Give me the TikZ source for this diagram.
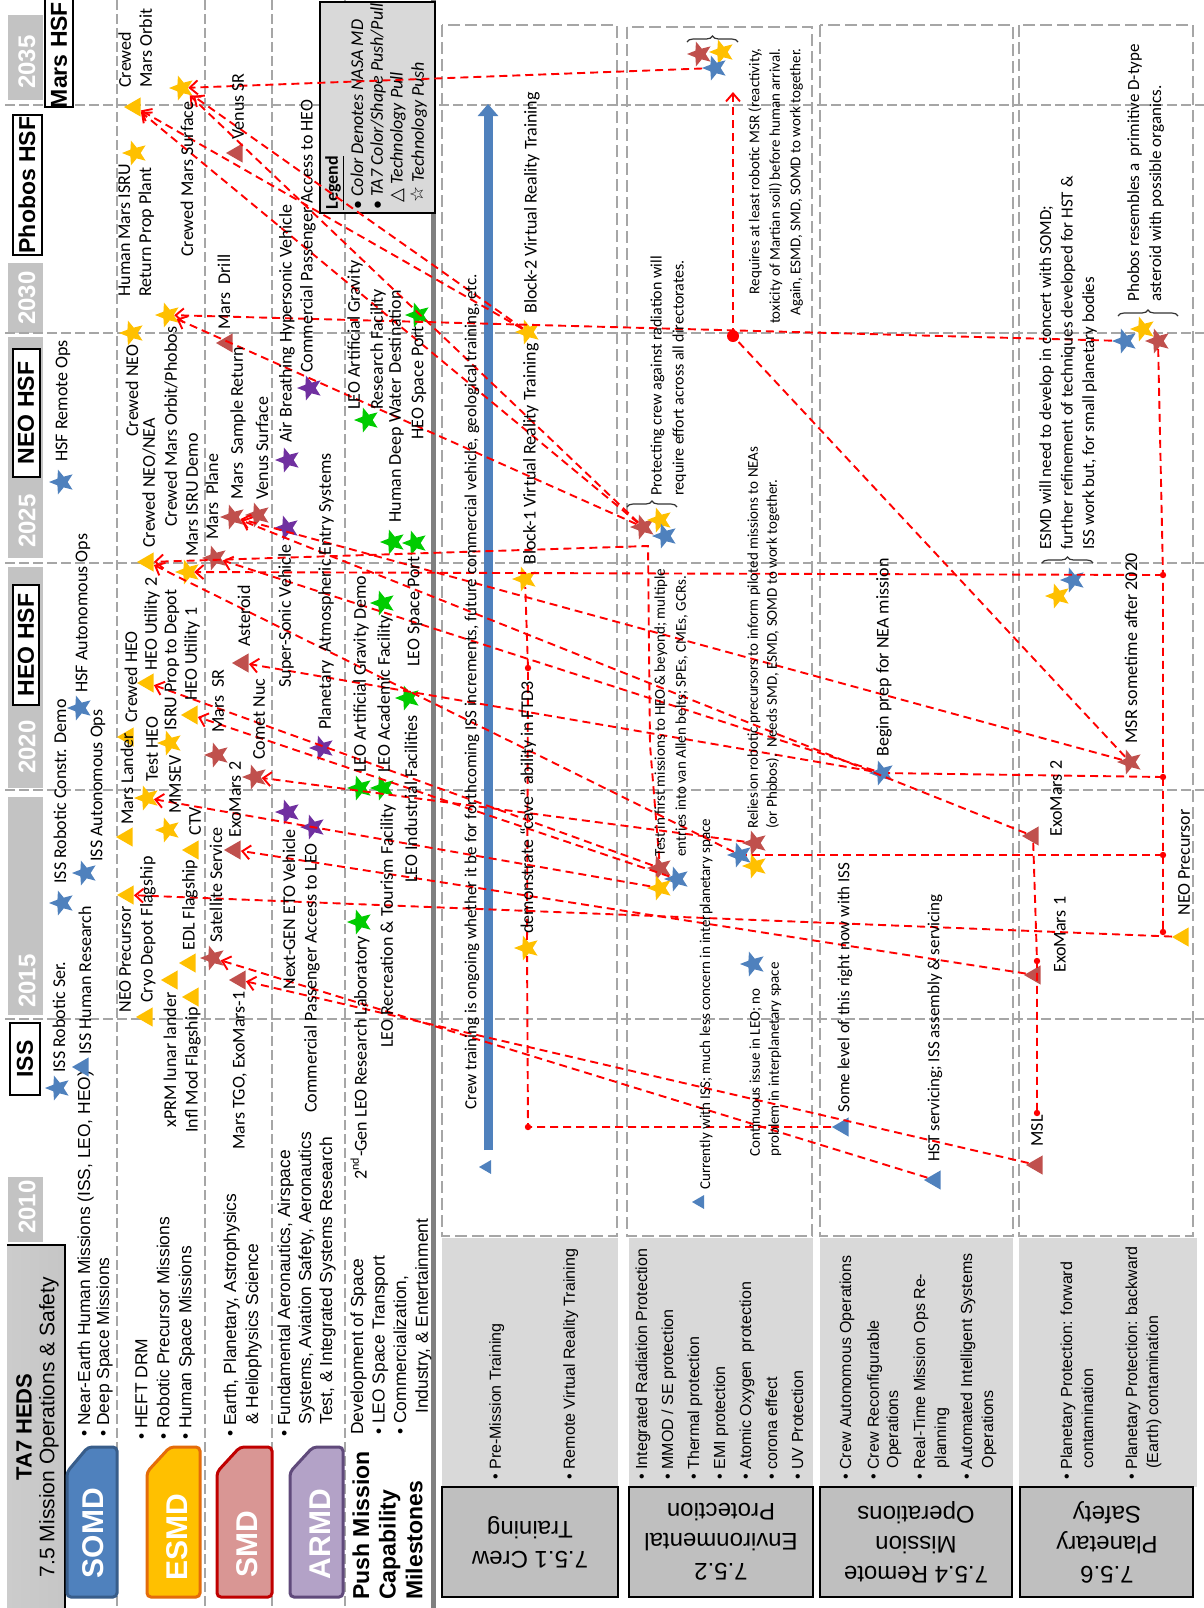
\documentclass[tikz,border=0pt]{standalone}
\usepackage{fontspec}
\setmainfont{Carlito}
\newfontfamily\arialf{Liberation Sans}
\newfontfamily\symf{DejaVu Sans}
\usetikzlibrary{shapes.geometric,arrows.meta,decorations.pathreplacing}

\definecolor{somdblue}{HTML}{4F81BD}
\definecolor{somdedge}{HTML}{385D8A}
\definecolor{esmdgold}{HTML}{FFC000}
\definecolor{esmdedge}{HTML}{E46C0A}
\definecolor{smdred}{HTML}{C0504D}
\definecolor{smdfill}{HTML}{D99694}
\definecolor{smdedge}{HTML}{C00000}
\definecolor{armdpurple}{HTML}{7030A0}
\definecolor{armdfill}{HTML}{B3A2C7}
\definecolor{armdedge}{HTML}{604A7B}
\definecolor{pushgreen}{HTML}{00CC00}
\definecolor{gridgray}{HTML}{A6A6A6}
\definecolor{cellgray}{HTML}{C3C3C3}
\definecolor{boxgray}{HTML}{D9D9D9}
\definecolor{darkbox}{HTML}{BFBFBF}
\definecolor{pullred}{HTML}{FF0000}

\tikzset{
  lbl/.style={rotate=90, anchor=west, inner sep=0pt, font=\fontsize{9}{10.5}\selectfont},
  lbltwo/.style={rotate=90, anchor=north west, inner sep=0pt, align=left, font=\fontsize{9}{10.5}\selectfont},
  notesm/.style={rotate=90, anchor=north west, inner sep=0pt, align=left, font=\fontsize{7.5}{10.5}\selectfont},
  notesl/.style={rotate=90, anchor=west, inner sep=0pt, font=\fontsize{7.5}{9}\selectfont},
  notemd/.style={rotate=90, anchor=west, inner sep=0pt, font=\fontsize{8.5}{10}\selectfont},
  bullets/.style={rotate=90, anchor=north west, inner sep=0pt, align=left, font=\arialf\fontsize{8.7}{11}\selectfont},
  capbul/.style={rotate=90, anchor=north west, inner sep=0pt, align=left, font=\arialf\fontsize{8}{9.5}\selectfont},
  tabtext/.style={rotate=90, text=white, font=\arialf\bfseries\fontsize{15}{15}\selectfont},
  yeartext/.style={rotate=90, text=white, font=\arialf\bfseries\fontsize{12}{12}\selectfont},
  milebox/.style={rotate=90, font=\arialf\bfseries\fontsize{11.5}{11.5}\selectfont},
  rowhead/.style={rotate=180, align=center, font=\arialf\fontsize{12}{15}\selectfont},
  mstar/.style={star, star points=5, star point ratio=2.3, minimum size=13pt, inner sep=0pt, rotate=90},
  mtri/.style={regular polygon, regular polygon sides=3, minimum size=11pt, inner sep=0pt, rotate=90},
  yearline/.style={gridgray, line width=0.6pt, dash pattern=on 5pt off 2pt},
  rowbox/.style={gridgray, line width=1pt, dash pattern=on 6pt off 2.5pt},
  linkline/.style={pullred, line width=0.95pt, dash pattern=on 4pt off 2.5pt},
  pullline/.style={linkline, -{Straight Barb[length=4pt, width=7pt]}},
  clusterbrace/.style={decorate, decoration={brace, amplitude=3pt}, line width=0.6pt, black!80}
}

\begin{document}
\begin{tikzpicture}[x=0.5pt, y=-0.5pt]
\useasboundingbox (0,0) rectangle (1204,1608);
\fill[white] (0,0) rectangle (1204,1608);

% year cells
\fill[cellgray] (8,15) rectangle (43,100);
\fill[cellgray] (8,263) rectangle (43,333);
\fill[cellgray] (8,337) rectangle (43,558);
\fill[cellgray] (8,567) rectangle (43,788);
\fill[cellgray] (8,797) rectangle (43,1015);
\fill[cellgray] (8,1177) rectangle (43,1242);
\node[yeartext] (y2035) at (27,62) {2035};
\node[yeartext] (y2030) at (27,298) {2030};
\node[yeartext] (y2025) at (27,521) {2025};
\node[yeartext] (y2020) at (27,747) {2020};
\node[yeartext] (y2015) at (27,981) {2015};
\node[yeartext] (y2010) at (27,1207) {2010};

% grid
\foreach \yy in {105,333,563,790,1019}
  \draw[yearline] (5,\yy) -- (1204,\yy);
\foreach \xx in {117,205,272,345}
  \draw[yearline] (\xx,0) -- (\xx,1608);
\draw[line width=2.5pt, gray] (433,0) -- (433,1608);

% milestone boxes
\draw[line width=1.2pt, fill=white] (45,-5) rectangle (73,107);
\node[milebox] (b_mars) at (59,55) {Mars HSF};
\draw[line width=1.2pt, fill=white] (13,115) rectangle (42,255);
\node[milebox] (b_phobos) at (27,185) {Phobos HSF};
\draw[line width=1.2pt, fill=white] (13,349) rectangle (40,477);
\node[milebox] (b_neo) at (26,413) {NEO HSF};
\draw[line width=1.2pt, fill=white] (13,585) rectangle (39,705);
\node[milebox] (b_heo) at (26,645) {HEO HSF};
\draw[line width=1.2pt, fill=white] (10,1023) rectangle (40,1095);
\node[milebox] (b_iss) at (25,1059) {ISS};

% header
\shade[left color=gray!40, middle color=gray!6, right color=gray!45] (7,1245) rectangle (65,1608);
\draw[line width=1pt] (7,1245) -- (65,1245) -- (65,1608);
\node[rotate=90, font=\arialf\bfseries\fontsize{11}{11}\selectfont] (hd_ta7) at (24,1427) {TA7 HEDS};
\node[rotate=90, font=\arialf\fontsize{10.5}{10.5}\selectfont] (hd_sub) at (49,1427) {7.5 Mission Operations \& Safety};

% directorate tabs
\filldraw[fill=somdblue, draw=somdedge, line width=1.5pt, rounded corners=2pt]
  (67,1472) -- (88,1447) -- (117,1447) -- (117,1597) -- (67,1597) -- cycle;
\node[tabtext] (tab_somd) at (93,1533) {SOMD};
\filldraw[fill=esmdgold, draw=esmdedge, line width=1.5pt, rounded corners=2pt]
  (147,1472) -- (170,1447) -- (200,1447) -- (200,1597) -- (147,1597) -- cycle;
\node[tabtext] (tab_esmd) at (177,1537) {ESMD};
\filldraw[fill=smdfill, draw=smdedge, line width=1.5pt, rounded corners=2pt]
  (217,1472) -- (240,1447) -- (272,1447) -- (272,1597) -- (217,1597) -- cycle;
\node[tabtext] (tab_smd) at (247,1544) {SMD};
\filldraw[fill=armdfill, draw=armdedge, line width=1.5pt, rounded corners=2pt]
  (290,1472) -- (313,1447) -- (343,1447) -- (343,1597) -- (290,1597) -- cycle;
\node[tabtext] (tab_armd) at (320,1534) {ARMD};
\node[rotate=90, anchor=north west, inner sep=0pt, align=left, font=\arialf\bfseries\fontsize{11.5}{13.3}\selectfont] (tab_push) at (352,1600) {Push Mission\\Capability\\Milestones};

\node[bullets, font=\arialf\fontsize{8.7}{9.5}\selectfont] (m_somd) at (77,1437) {• Near-Earth Human Missions (ISS, LEO, HEO)\\• Deep Space Missions};
\node[bullets] (m_esmd) at (135,1440) {• HEFT DRM\\• Robotic Precursor Missions\\• Human Space Missions};
\node[bullets] (m_smd) at (223,1437) {• Earth, Planetary, Astrophysics\\\hspace*{0.7em}\& Heliophysics Science};
\node[bullets, font=\arialf\fontsize{8.7}{10.5}\selectfont] (m_armd) at (277,1437) {• Fundamental Aeronautics, Airspace\\\hspace*{0.7em}Systems, Aviation Safety, Aeronautics\\\hspace*{0.7em}Test, \& Integrated Systems Research};
\node[bullets, font=\arialf\fontsize{8.7}{10.8}\selectfont] (m_push) at (350,1435) {Development of Space\\• LEO Space Transport\\• Commercialization,\\\hspace*{1.2em}Industry, \& Entertainment};

% lower rows
\fill[boxgray] (442,1238) rectangle (618,1487);
\fill[boxgray] (629,1238) rectangle (813,1487);
\fill[boxgray] (820,1238) rectangle (1013,1487);
\fill[boxgray] (1019,1238) rectangle (1197,1487);
\filldraw[fill=darkbox, draw=black, line width=1pt] (442,1487) rectangle (618,1597);
\filldraw[fill=darkbox, draw=black, line width=1pt] (629,1487) rectangle (813,1597);
\filldraw[fill=darkbox, draw=black, line width=1pt] (820,1487) rectangle (1012,1597);
\filldraw[fill=darkbox, draw=black, line width=1pt] (1020,1487) rectangle (1193,1597);
\draw[rowbox] (442,25) rectangle (617,1236);
\draw[rowbox] (627,27) rectangle (812,1236);
\draw[rowbox] (820,25) rectangle (1013,1236);
\draw[rowbox] (1019,25) rectangle (1193,1236);
\node[rowhead] (h_crew) at (530,1542) {7.5.1 Crew\\Training};
\node[rowhead] (h_env) at (721,1542) {7.5.2\\Environmental\\Protection};
\node[rowhead] (h_remote) at (916,1542) {7.5.4 Remote\\Mission\\Operations};
\node[rowhead] (h_safety) at (1107,1542) {7.5.6\\Planetary\\Safety};
\node[capbul] (c_pre) at (489,1480) {• Pre-Mission Training};
\node[capbul] (c_rvr) at (563,1480) {• Remote Virtual Reality Training};
\node[capbul, font=\arialf\fontsize{8}{13}\selectfont] (c_env) at (635,1480) {• Integrated Radiation Protection\\• MMOD / SE protection\\• Thermal protection\\• EMI protection\\• Atomic Oxygen\ \ protection\\• corona effect\\• UV Protection};
\node[capbul] (c_cao) at (839,1480) {• Crew Autonomous Operations};
\node[capbul] (c_cro) at (867,1480) {• Crew Reconfigurable\\\hspace*{0.7em}Operations};
\node[capbul, font=\arialf\fontsize{8}{10.5}\selectfont] (c_rtm) at (913,1480) {• Real-Time Mission Ops Re-\\\hspace*{0.7em}planning};
\node[capbul, font=\arialf\fontsize{8}{10.5}\selectfont] (c_ais) at (960,1480) {• Automated Intelligent Systems\\\hspace*{0.7em}Operations};
\node[capbul, font=\arialf\fontsize{8}{10.5}\selectfont] (c_ppf) at (1060,1480) {• Planetary Protection: forward\\\hspace*{0.7em}contamination};
\node[capbul, font=\arialf\fontsize{8}{10.5}\selectfont] (c_ppb) at (1125,1480) {• Planetary Protection: backward\\\hspace*{0.7em}(Earth) contamination};

% legend
\filldraw[fill=boxgray, draw=black, line width=1pt] (320,2) rectangle (435,213);
\node[lbl, font=\bfseries\fontsize{9}{10}\selectfont] (lg_title) at (335,210) {\underline{Legend}};
\node[lbl] (lg_color) at (357,210) {• \textit{Color Denotes NASA MD}};
\node[lbl] (lg_shape) at (378,210) {• \textit{TA7 Color/Shape Push/Pull}};
\node[lbl] (lg_pull) at (398,203) {{\symf △} \textit{Technology Pull}};
\node[lbl] (lg_push) at (419,203) {{\symf ☆} \textit{Technology Push}};

% markers, top
\node[mstar, fill=somdblue] (s_issrs) at (58,1088) {};
\node[mtri, fill=somdblue] (t_isshr) at (83,1067) {};
\node[mstar, fill=somdblue] (s_issrcd) at (62,903) {};
\node[mstar, fill=somdblue] (s_issao) at (85,873) {};
\node[mstar, fill=somdblue] (s_hsfao) at (80,708) {};
\node[mstar, fill=somdblue] (s_hsfro) at (62,482) {};
\node[mtri, fill=esmdgold] (t_neop) at (128,895) {};
\node[mtri, fill=esmdgold] (t_cryo) at (147,1017) {};
\node[mtri, fill=esmdgold] (t_xprm) at (172,980) {};
\node[mtri, fill=esmdgold] (t_infl) at (193,997) {};
\node[mtri, fill=esmdgold] (t_edl) at (190,963) {};
\node[mtri, fill=esmdgold] (t_ctv) at (193,850) {};
\node[mstar, fill=esmdgold] (s_mmsev) at (168,830) {};
\node[mtri, fill=esmdgold] (t_marsl) at (127,837) {};
\node[mstar, fill=esmdgold] (s_testheo) at (147,798) {};
\node[mstar, fill=esmdgold] (s_isrupd) at (170,743) {};
\node[mtri, fill=esmdgold] (t_crewheo) at (128,737) {};
\node[mtri, fill=esmdgold] (t_heou2) at (148,683) {};
\node[mtri, fill=esmdgold] (t_heou1) at (192,715) {};
\node[mtri, fill=esmdgold] (t_crewneonea) at (148,562) {};
\node[mstar, fill=esmdgold] (s_marsisru) at (188,572) {};
\node[mstar, fill=esmdgold] (s_crewmop) at (168,315) {};
\node[mstar, fill=esmdgold] (s_crewneo) at (132,333) {};
\node[mstar, fill=esmdgold] (s_hmisru) at (135,153) {};
\node[mtri, fill=esmdgold] (t_crewmo) at (135,107) {};
\node[mstar, fill=esmdgold] (s_crewms) at (182,88) {};
\node[mstar, fill=smdred] (s_satserv) at (213,958) {};
\node[mtri, fill=smdred] (t_marstgo) at (240,980) {};
\node[mtri, fill=smdred] (t_exom2) at (235,850) {};
\node[mstar, fill=smdred] (s_marssr) at (217,755) {};
\node[mstar, fill=smdred] (s_cometnuc) at (255,777) {};
\node[mtri, fill=smdred] (t_asteroid) at (243,663) {};
\node[mstar, fill=smdred] (s_marsplane) at (215,558) {};
\node[mstar, fill=smdred] (s_marssret) at (233,517) {};
\node[mstar, fill=smdred] (s_venussurf) at (258,515) {};
\node[mtri, fill=smdred] (t_marsdrill) at (227,343) {};
\node[mtri, fill=smdred] (t_venussr) at (237,153) {};
\node[mstar, fill=armdpurple] (s_etov) at (288,812) {};
\node[mstar, fill=armdpurple] (s_cpleo) at (313,827) {};
\node[mstar, fill=armdpurple] (s_planet) at (322,748) {};
\node[mstar, fill=armdpurple] (s_supers) at (287,528) {};
\node[mstar, fill=armdpurple] (s_airb) at (288,460) {};
\node[mstar, fill=armdpurple] (s_cpheo) at (310,388) {};
\node[mstar, fill=pushgreen] (s_gen2) at (360,922) {};
\node[mstar, fill=pushgreen] (s_leoagd) at (360,788) {};
\node[mstar, fill=pushgreen] (s_leorec) at (383,788) {};
\node[mstar, fill=pushgreen] (s_leoacad) at (383,603) {};
\node[mstar, fill=pushgreen] (s_leoind) at (408,698) {};
\node[mstar, fill=pushgreen] (s_hdwd) at (393,542) {};
\node[mstar, fill=pushgreen] (s_leosp) at (415,543) {};
\node[mstar, fill=pushgreen] (s_leoagrf) at (367,420) {};
\node[mstar, fill=pushgreen] (s_heosp) at (418,315) {};

% markers, bottom
\node[mstar, fill=smdred] (s_m1) at (700,54) {};
\node[mstar, fill=esmdgold] (s_m2) at (722,52) {};
\node[mstar, fill=somdblue] (s_m3) at (715,68) {};
\node[mstar, fill=smdred] (s_a1) at (643,527) {};
\node[mstar, fill=esmdgold] (s_a2) at (660,520) {};
\node[mstar, fill=somdblue] (s_a3) at (665,536) {};
\node[mstar, fill=smdred] (s_b1) at (660,868) {};
\node[mstar, fill=somdblue] (s_b2) at (677,879) {};
\node[mstar, fill=esmdgold] (s_b3) at (660,888) {};
\node[mstar, fill=somdblue] (s_c1) at (740,855) {};
\node[mstar, fill=smdred] (s_c2) at (755,843) {};
\node[mstar, fill=esmdgold] (s_c3) at (755,866) {};
\node[mstar, fill=somdblue] (s_cont) at (753,964) {};
\node[mtri, fill=somdblue, minimum size=8pt] (t_curr) at (700,1202) {};
\node[mstar, fill=esmdgold] (s_blk2) at (528,332) {};
\node[mstar, fill=esmdgold] (s_blk1) at (525,579) {};
\node[mstar, fill=esmdgold] (s_ftd) at (527,948) {};
\node[mtri, fill=somdblue, minimum size=8pt] (t_crewtr) at (487,1167) {};
\node[mstar, fill=somdblue] (s_nea) at (882,773) {};
\node[mtri, fill=somdblue] (t_some) at (843,1127) {};
\node[mtri, fill=somdblue] (t_hst) at (935,1180) {};
\node[mstar, fill=somdblue] (s_d1) at (1073,580) {};
\node[mstar, fill=esmdgold] (s_d2) at (1058,596) {};
\node[mstar, fill=somdblue] (s_p1) at (1125,341) {};
\node[mstar, fill=esmdgold] (s_p2) at (1143,329) {};
\node[mstar, fill=smdred] (s_p3) at (1158,341) {};
\node[mstar, fill=smdred] (s_msr) at (1130,762) {};
\node[mtri, fill=smdred] (t_exom2b) at (1033,836) {};
\node[mtri, fill=smdred] (t_exom1b) at (1035,975) {};
\node[mtri, fill=smdred] (t_msl) at (1037,1165) {};
\node[mtri, fill=esmdgold] (t_neopb) at (1183,937) {};

\draw[clusterbrace] (687,42) -- (738,42);
\draw[clusterbrace] (627,507) -- (677,507);
\draw[clusterbrace] (1042,563) -- (1093,563);
\draw[clusterbrace] (1118,316) -- (1178,316);

% crew training bar
\coordinate (k_barbot) at (488,1150);
\coordinate (k_bartop) at (488,104);
\draw[line width=4.5pt, somdblue, -{Triangle[length=6pt, width=10pt]}] (k_barbot) -- (k_bartop);

% pull lines
\coordinate (k_mars) at (733,92);
\coordinate (d_msr) at (733,336);
\coordinate (k_a) at (648,546);
\coordinate (k_b) at (650,745);
\coordinate (d_ftd) at (528,1127);
\coordinate (d_blk) at (528,668);
\coordinate (d_r1) at (1163,575);
\coordinate (d_r2) at (1163,777);
\coordinate (d_r3) at (1163,855);
\coordinate (d_r4) at (1163,932);
\coordinate (d_e1) at (1037,961);
\coordinate (d_e2) at (1037,1113);
\draw[pullline] (s_m3) -- (s_crewms);
\draw[pullline] (s_a1) -- (s_crewms);
\draw[pullline] (s_a1) -- (t_crewmo);
\draw[pullline] (s_a1) -- (s_crewmop);
\draw[pullline] (s_blk2) -- (s_crewms);
\draw[pullline] (s_blk2) -- (t_crewmo);
\draw[pullline] (s_b1) -- (k_b) -- (k_a) -- (t_crewneonea);
\draw[pullline] (s_p1) -- (s_crewmop);
\draw[pullline] (d_msr) -- (k_mars);
\draw[linkline] (s_msr) -- (d_msr);
\draw[pullline] (s_msr) -- (s_marssret);
\draw[pullline] (s_b1) -- (t_heou2);
\draw[pullline] (s_b2) -- (t_heou1);
\draw[pullline] (s_b3) -- (s_testheo);
\draw[pullline] (t_neopb) -- (t_neop);
\draw[pullline] (s_c1) -- (t_crewneonea);
\draw[pullline] (s_c2) -- (s_cometnuc);
\draw[pullline] (s_nea) -- (t_asteroid);
\draw[pullline] (s_nea) -- (s_marsplane);
\draw[linkline] (s_p3) -- (d_r1) -- (d_r2) -- (d_r3) -- (d_r4);
\draw[pullline] (d_r1) -- (s_marsisru);
\draw[linkline] (d_r2) -- (s_nea);
\draw[linkline] (d_r3) -- (s_c1);
\draw[linkline] (t_exom2b) -- (d_e1) -- (d_e2);
\draw[pullline] (t_exom1b) -- (t_exom2);
\draw[pullline] (t_exom2b) -- (s_marssret);
\draw[pullline] (t_hst) -- (s_satserv);
\draw[pullline] (t_msl) -- (t_marstgo);
\draw[linkline] (t_some) -- (d_ftd) -- (s_ftd);
\draw[linkline] (s_ftd) -- (d_blk) -- (s_blk1);
\foreach \dd in {d_ftd,d_blk,d_r1,d_r2,d_r3,d_r4,d_e1,d_e2}
  \fill[pullred] (\dd) circle[radius=1.6pt];
\fill[pullred] (d_msr) circle[radius=3pt];

% labels, top
\node[lbl] (l_issrs) at (59,1073) {ISS Robotic Ser.};
\node[lbl] (l_isshr) at (85,1055) {ISS Human Research};
\node[lbl] (l_issrcd) at (60,884) {ISS Robotic Constr. Demo};
\node[lbl] (l_issao) at (98,862) {ISS Autonomous Ops};
\node[lbl] (l_hsfao) at (83,693) {HSF Autonomous Ops};
\node[lbl] (l_hsfro) at (63,462) {HSF Remote Ops};
\node[lbl] (l_neop) at (125,1013) {NEO Precursor};
\node[lbl] (l_cryo) at (148,1003) {Cryo Depot Flagship};
\node[lbl] (l_xprm) at (170,1128) {xPRM lunar lander};
\node[lbl] (l_infl) at (193,1133) {Infl Mod Flagship};
\node[lbl] (l_edl) at (190,951) {EDL Flagship};
\node[lbl] (l_ctv) at (195,836) {CTV};
\node[lbl] (l_mmsev) at (175,814) {MMSEV};
\node[lbl] (l_marsl) at (127,825) {Mars Lander};
\node[lbl] (l_testheo) at (152,782) {Test HEO};
\node[lbl] (l_isrupd) at (172,731) {ISRU Prop to Depot};
\node[lbl] (l_crewheo) at (131,723) {Crewed HEO};
\node[lbl] (l_heou2) at (152,671) {HEO Utility 2};
\node[lbl] (l_heou1) at (192,701) {HEO Utility 1};
\node[lbl] (l_crewneonea) at (149,548) {Crewed NEO/NEA};
\node[lbl] (l_marsisru) at (192,557) {Mars ISRU Demo};
\node[lbl] (l_crewmop) at (171,527) {Crewed Mars Orbit/Phobos};
\node[lbl] (l_crewneo) at (132,437) {Crewed NEO};
\node[lbltwo] (l_hmisru) at (118,297) {Human Mars ISRU\\Return Prop Plant};
\node[lbltwo] (l_crewmo) at (118,88) {Crewed\\Mars Orbit};
\node[lbl] (l_crewms) at (187,257) {Crewed Mars Surface};
\node[lbl] (l_satserv) at (216,943) {Satellite Service};
\node[lbl] (l_marstgo) at (240,1150) {Mars TGO, ExoMars-1};
\node[lbl] (l_exom2) at (235,838) {ExoMars 2};
\node[lbl] (l_marssr) at (218,733) {Mars\ \ SR};
\node[lbl] (l_cometnuc) at (259,760) {Comet Nuc};
\node[lbl] (l_asteroid) at (244,647) {Asteroid};
\node[lbl] (l_marsplane) at (212,540) {Mars\ \ Plane};
\node[lbl] (l_marssret) at (238,500) {Mars\ \ Sample Return};
\node[lbl] (l_venussurf) at (262,500) {Venus Surface};
\node[lbl] (l_marsdrill) at (224,330) {Mars\ \ Drill};
\node[lbl] (l_venussr) at (238,140) {Venus SR};
\node[lbl] (l_etov) at (289,990) {Next-GEN ETO Vehicle};
\node[lbl] (l_cpleo) at (312,1113) {Commercial Passenger Access to LEO};
\node[lbl] (l_planet) at (326,730) {Planetary\ \ Atmospheric Entry Systems};
\node[lbl] (l_supers) at (286,688) {Super-Sonic Vehicle};
\node[lbl] (l_airb) at (287,443) {Air Breathing Hypersonic Vehicle};
\node[lbl] (l_cpheo) at (308,373) {Commercial Passenger Access to HEO};
\node[lbl] (l_gen2) at (360,1180) {2\textsuperscript{nd}-Gen LEO Research Laboratory};
\node[lbl] (l_leorec) at (388,1048) {LEO Recreation \& Tourism Facility};
\node[lbl] (l_leoind) at (411,883) {LEO Industrial Facilities};
\node[lbl] (l_leoagd) at (361,773) {LEO Artificial Gravity Demo};
\node[lbl] (l_leoacad) at (385,773) {LEO Academic Facility};
\node[lbl] (l_leosp) at (415,667) {LEO Space Port};
\node[lbl] (l_hdwd) at (396,523) {Human Deep Water Destination};
\node[lbl] (l_heosp) at (419,440) {HEO Space Port};
\node[lbltwo, font=\fontsize{9}{11.5}\selectfont] (l_leoagrf) at (347,410) {LEO Artificial Gravity\\Research Facility};

% labels, bottom
\node[notemd] (n_crew) at (472,1110) {Crew training is ongoing whether it be for forthcoming ISS increments, future commercial vehicle, geological training, etc.};
\node[lbl] (n_blk2) at (532,314) {Block-2 Virtual Reality Training};
\node[lbl] (n_blk1) at (531,565) {Block-1 Virtual Reality Training};
\node[lbl] (n_ftd) at (528,934) {demonstrate “cave” ability in FTD3};
\node[notesm, font=\fontsize{8}{11}\selectfont] (n_prot) at (650,496) {Protecting crew against radiation will\\require effort across all directorates.};
\node[notesm] (n_test) at (654,857) {Test in first missions to HEO \& beyond; multiple\\entries into van Allen belts; SPEs, CMEs, GCRs.};
\node[notesl] (n_curr) at (706,1190) {Currently with ISS; much less concern in interplanetary space};
\node[notesm, font=\fontsize{7.5}{9.5}\selectfont] (n_cont) at (749,1157) {Continuous issue in LEO; no\\problem in interplanetary space};
\node[notesm, font=\fontsize{7.5}{9.5}\selectfont] (n_relies) at (747,829) {Relies on robotic precursors to inform piloted missions to NEAs\\(or Phobos).\ \ Needs SMD, ESMD, SOMD to work together.};
\node[rotate=90, anchor=north east, inner sep=0pt, align=right, font=\fontsize{7.5}{10.25}\selectfont] (n_req) at (748,48) {Requires at least robotic MSR (reactivity,\\toxicity of Martian soil) before human arrival.\\Again, ESMD, SMD, SOMD to work together.};
\node[lbl] (n_nea) at (884,757) {Begin prep for NEA mission};
\node[notemd] (n_some) at (845,1113) {Some level of this right now with ISS};
\node[notemd] (n_hst) at (935,1162) {HST servicing; ISS assembly \& servicing};
\node[notesm, font=\fontsize{8.5}{10.75}\selectfont] (n_esmd) at (1039,550) {ESMD will need to develop in concert with SOMD;\\further refinement of techniques developed for HST \&\\ISS work but, for small planetary bodies};
\node[notesm, font=\fontsize{8.5}{11}\selectfont] (n_phobos) at (1127,302) {Phobos resembles a\ \ primitive D-type\\asteroid with possible organics.};
\node[lbl] (n_msr) at (1131,744) {MSR sometime after 2020};
\node[lbl] (n_exom2) at (1056,837) {ExoMars 2};
\node[lbl] (n_exom1) at (1060,973) {ExoMars 1};
\node[lbl] (n_msl) at (1037,1147) {MSL};
\node[lbl] (n_neop) at (1184,916) {NEO Precursor};
\end{tikzpicture}
\end{document}
